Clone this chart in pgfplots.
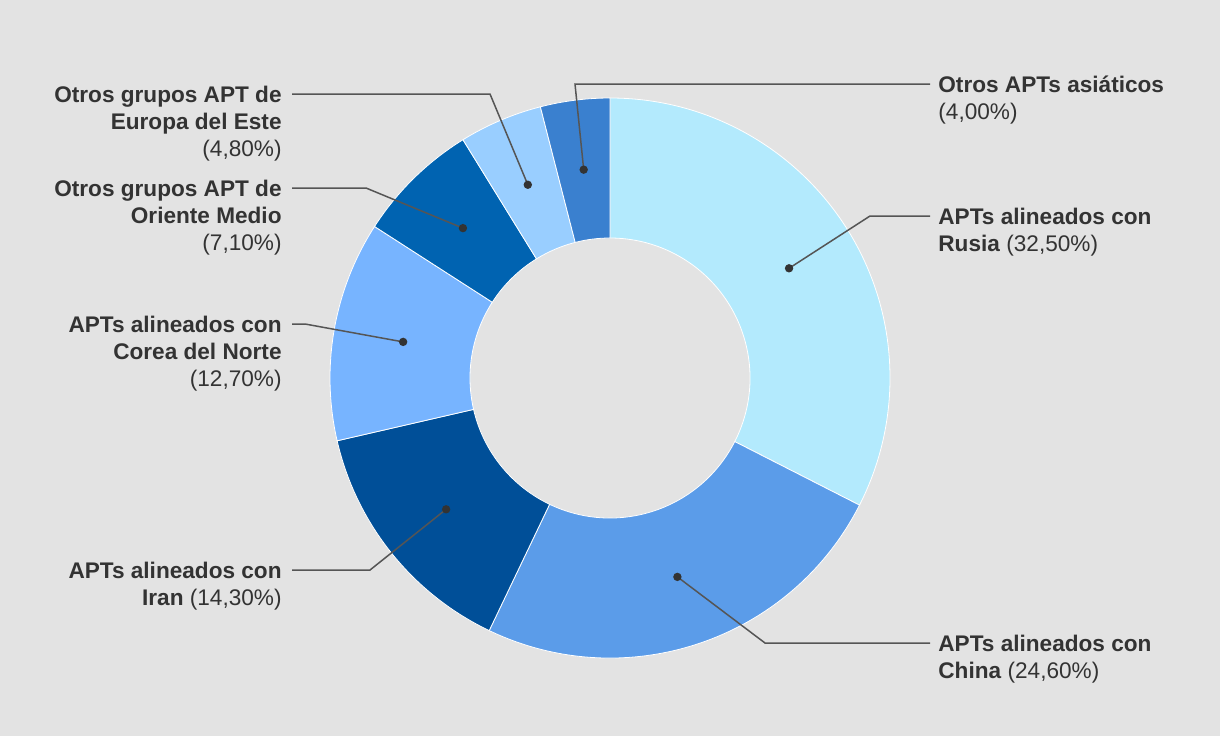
\documentclass[border=0pt]{standalone}
\usepackage{pgfplots}
\pgfplotsset{compat=1.18}
\usepackage{fontspec}
\setmainfont{Liberation Sans}
\definecolor{bg}{HTML}{E3E3E3}
\definecolor{cRus}{HTML}{B3EAFD}
\definecolor{cChn}{HTML}{5B9CE9}
\definecolor{cIrn}{HTML}{004F98}
\definecolor{cNK}{HTML}{77B4FF}
\definecolor{cME}{HTML}{0063B1}
\definecolor{cEE}{HTML}{99CEFF}
\definecolor{cAs}{HTML}{3A80CF}
\definecolor{txt}{HTML}{333333}
\definecolor{lead}{HTML}{555555}
\def\cum{0}
% value, colour, name
\newcommand\slice[3]{%
  \pgfmathsetmacro\sa{90-3.6*\cum}%
  \pgfmathsetmacro\ea{90-3.6*(\cum+#1)}%
  \pgfmathsetmacro\md{(\sa+\ea)/2}%
  \edef\tmp{\noexpand\fill[#2,draw=white,line width=0.4pt] (axis cs:610,358) ++(\sa:140pt) arc[start angle=\sa,end angle=\ea,radius=140pt] -- ++(\ea:-70pt) arc[start angle=\ea,end angle=\sa,radius=70pt] -- cycle;
    \noexpand\coordinate (#3) at ([shift={(\md:105pt)}]axis cs:610,358);}%
  \tmp
  \pgfmathsetmacro\newcum{\cum+#1}%
  \xdef\cum{\newcum}%
}
\begin{document}
\begin{tikzpicture}[font={\fontsize{11.3}{13.5}\selectfont}]
\begin{axis}[
  x=0.5pt, y=0.5pt, xmin=0, xmax=1220, ymin=0, ymax=736,
  scale only axis, hide axis, clip=false]
\fill[bg] (axis cs:0,0) rectangle (axis cs:1220,736);
\slice{32.5}{cRus}{dRus}
\slice{24.6}{cChn}{dChn}
\slice{14.3}{cIrn}{dIrn}
\slice{12.7}{cNK}{dNK}
\slice{7.1}{cME}{dME}
\slice{4.8}{cEE}{dEE}
\slice{4.0}{cAs}{dAs}
% leader lines
\draw[lead,line width=0.75pt] (dRus) -- (axis cs:870,520) -- (axis cs:930,520);
\draw[lead,line width=0.75pt] (dChn) -- (axis cs:765,93) -- (axis cs:930,93);
\draw[lead,line width=0.75pt] (dIrn) -- (axis cs:370,166) -- (axis cs:292,166);
\draw[lead,line width=0.75pt] (dNK) -- (axis cs:305,412) -- (axis cs:292,412);
\draw[lead,line width=0.75pt] (dME) -- (axis cs:366,548) -- (axis cs:292,548);
\draw[lead,line width=0.75pt] (dEE) -- (axis cs:490,642) -- (axis cs:292,642);
\draw[lead,line width=0.75pt] (dAs) -- (axis cs:575,652) -- (axis cs:930,652);
\fill[txt] (dRus) circle[radius=2.1pt];
\fill[txt] (dChn) circle[radius=2.1pt];
\fill[txt] (dIrn) circle[radius=2.1pt];
\fill[txt] (dNK) circle[radius=2.1pt];
\fill[txt] (dME) circle[radius=2.1pt];
\fill[txt] (dEE) circle[radius=2.1pt];
\fill[txt] (dAs) circle[radius=2.1pt];
% labels (base anchor = baseline of last line)
\node[txt,anchor=base west,align=left,inner sep=0] at (axis cs:938,617) {\textbf{Otros APTs asiáticos}\\(4,00\%)};
\node[txt,anchor=base west,align=left,inner sep=0] at (axis cs:938,485) {\textbf{APTs alineados con}\\\textbf{Rusia} (32,50\%)};
\node[txt,anchor=base west,align=left,inner sep=0] at (axis cs:938,58) {\textbf{APTs alineados con}\\\textbf{China} (24,60\%)};
\node[txt,anchor=base east,align=right,inner sep=0] at (axis cs:282,580) {\textbf{Otros grupos APT de}\\\textbf{Europa del Este}\\(4,80\%)};
\node[txt,anchor=base east,align=right,inner sep=0] at (axis cs:282,486) {\textbf{Otros grupos APT de}\\\textbf{Oriente Medio}\\(7,10\%)};
\node[txt,anchor=base east,align=right,inner sep=0] at (axis cs:282,350) {\textbf{APTs alineados con}\\\textbf{Corea del Norte}\\(12,70\%)};
\node[txt,anchor=base east,align=right,inner sep=0] at (axis cs:282,131) {\textbf{APTs alineados con}\\\textbf{Iran} (14,30\%)};
\end{axis}
\end{tikzpicture}
\end{document}
